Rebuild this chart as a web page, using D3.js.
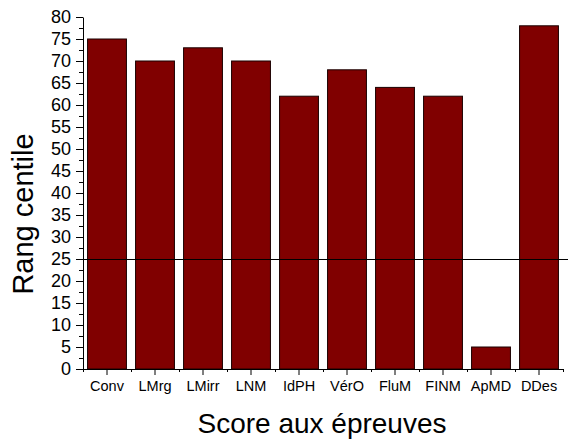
<!DOCTYPE html>
<html>
<head>
<meta charset="utf-8">
<script src="https://cdn.jsdelivr.net/npm/d3@7"></script>
<style>
  body { margin: 0; background: #fff; }
  text { font-family: Arial, "Liberation Sans", sans-serif; fill: #000; }
</style>
</head>
<body>
<div id="chart"></div>
<script>
var epreuves = ["Conv", "LMrg", "LMirr", "LNM", "IdPH", "VérO", "FluM", "FINM", "ApMD", "DDes"];
var rangs = [75, 70, 73, 70, 62, 68, 64, 62, 5, 78];
var yTicks = [0, 5, 10, 15, 20, 25, 30, 35, 40, 45, 50, 55, 60, 65, 70, 75, 80];
var seuil = 25;

var W = 568, H = 439;
var margin = {top: 17, right: 5, bottom: 70, left: 83},
    width = 480,
    height = 352;

var svg = d3.select("#chart").append("svg")
    .attr("width", W)
    .attr("height", H);

var g = svg.append("g")
    .attr("transform", "translate(" + margin.left + "," + margin.top + ")");

var x = d3.scaleBand()
    .domain(epreuves)
    .range([0, width])
    .paddingInner(0.19)
    .paddingOuter(0.095);

var y = d3.scaleLinear()
    .domain([0, 80])
    .range([height, 0]);

// bars
g.selectAll(".bar")
    .data(rangs)
  .enter().append("rect")
    .attr("class", "bar")
    .attr("x", function(d, i) { return x(epreuves[i]); })
    .attr("y", function(d) { return y(d); })
    .attr("width", x.bandwidth())
    .attr("height", function(d) { return y(0) - y(d); })
    .style("fill", "#800000")
    .style("stroke", "#1a0000")
    .style("stroke-width", 1);

// y axis
var yAxis = g.append("g")
    .call(d3.axisLeft(y).tickValues(yTicks).tickSize(7).tickPadding(5).tickSizeOuter(0));
yAxis.selectAll("text").style("font-size", "18px");

// minor y ticks
g.append("g").selectAll("line")
    .data(yTicks.slice(0, -1))
  .enter().append("line")
    .attr("x1", -4).attr("x2", 0)
    .attr("y1", function(d) { return Math.round(y(d + 2.5)) + 0.5; })
    .attr("y2", function(d) { return Math.round(y(d + 2.5)) + 0.5; })
    .style("stroke", "#000");

// x axis
var step = x.step();
var xAxis = g.append("g")
    .attr("transform", "translate(0," + height + ")")
    .call(d3.axisBottom(x).tickSize(6).tickPadding(6).tickSizeOuter(0));
xAxis.selectAll("text").style("font-size", "14.5px");
xAxis.select(".domain").attr("d", "M0.5,0.5H" + (width + 0.5));

// minor x ticks at category boundaries
g.append("g").selectAll("line")
    .data(d3.range(epreuves.length + 1))
  .enter().append("line")
    .attr("x1", function(i) { return Math.round(i * step) + 0.5; })
    .attr("x2", function(i) { return Math.round(i * step) + 0.5; })
    .attr("y1", height)
    .attr("y2", height + 3)
    .style("stroke", "#000");

// reference line at 25
g.append("line")
    .attr("x1", 0)
    .attr("x2", W - margin.left)
    .attr("y1", Math.round(y(seuil)) + 0.5)
    .attr("y2", Math.round(y(seuil)) + 0.5)
    .style("stroke", "#000")
    .style("stroke-width", 1);

// axis titles
svg.append("text")
    .attr("transform", "translate(33,214) rotate(-90)")
    .style("text-anchor", "middle")
    .style("font-size", "29px")
    .text("Rang centile");

svg.append("text")
    .attr("x", 322)
    .attr("y", 433)
    .style("text-anchor", "middle")
    .style("font-size", "28px")
    .text("Score aux épreuves");
</script>
</body>
</html>
